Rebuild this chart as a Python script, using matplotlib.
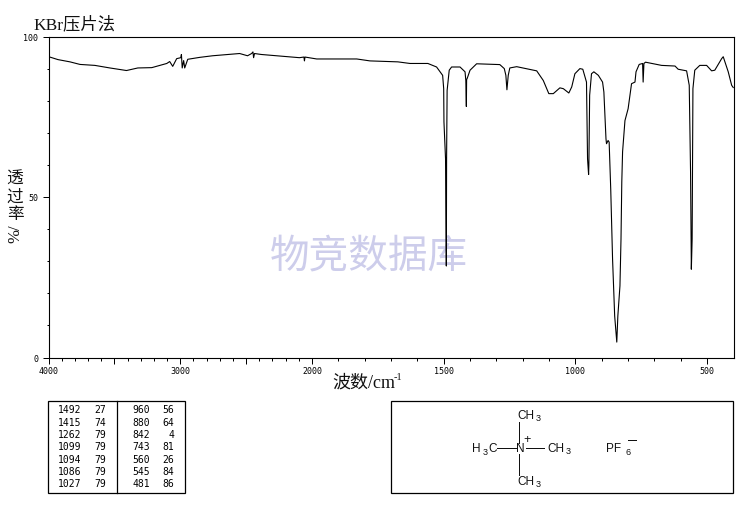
import numpy as np
import matplotlib
matplotlib.use("Agg")
import matplotlib.pyplot as plt
from matplotlib.patches import Rectangle

wavenumber = [3998,3928,3837,3761,3648,3534,3408,3322,3216,3102,3080,3057,3027,2996,2991,2985,2974,2966,2943,
    2852,2754,2549,2489,2458,2448,2443,2436,2385,2271,2095,2061,2057,2053,1982,1830,1780,1674,1628,1560,1527,
    1504,1500,1499,1493,1490,1489,1487,1479,1470,1438,1419,1416,1414,1413,1411,1400,1375,1287,1270,1264,1260,
    1255,1249,1223,1147,1122,1101,1084,1059,1046,1025,1014,1002,983,972,958,954,950,949,946,939,930,913,897,892,
    884,882,876,872,866,859,851,846,843,839,831,827,824,821,812,800,787,774,770,758,745,743,740,734,673,622,610,
    578,568,563,560,557,554,547,528,502,483,471,445,439,420,407,401]
transmittance = [93.7,92.8,92.1,91.3,91.0,90.2,89.4,90.2,90.3,91.6,92.2,90.7,93.1,93.4,94.4,90.2,92.5,90.2,92.9,
    93.5,94.0,94.7,94.0,94.7,95.2,93.4,94.7,94.4,94.0,93.4,93.6,92.4,93.6,93.0,93.0,92.4,92.1,91.6,91.6,90.5,
    87.9,83.75,73.4,61.9,28.5,61.9,83.2,89.5,90.5,90.5,89.0,86.3,78.2,86.6,86.9,89.5,91.5,91.25,90.0,87.9,83.4,
    87.9,90.2,90.6,89.3,86.3,82.2,82.2,84.0,83.75,82.4,84.3,88.4,90.0,89.8,85.8,61.9,57.0,59.8,81.7,88.4,89.0,87.9,85.8,82.7,
    68.1,66.6,67.6,67.1,52.5,30.6,12.9,7.8,4.8,12.9,22.3,36.9,54.7,64.1,73.8,77.5,85.3,85.8,89.0,91.3,91.6,85.8,91.6,92.0,91.0,90.8,89.8,
    89.3,84.8,57.8,27.5,36.9,83.75,89.5,91.0,91.0,89.3,89.5,93.1,93.7,89.0,84.8,84.1]

x_major = [4000,3500,3000,2500,2000,1500,1000,500]
x_labels = {4000:"4000",3000:"3000",2000:"2000",1500:"1500",1000:"1000",500:"500"}
y_major = [0,50,100]

peaks_left = [("1492","27"),("1415","74"),("1262","79"),("1099","79"),("1094","79"),("1086","79"),("1027","79")]
peaks_right = [("960","56"),("880","64"),("842","4"),("743","81"),("560","26"),("545","84"),("481","86")]

W, H = 737, 510
fig = plt.figure(figsize=(W/100, H/100), dpi=100, facecolor="white")

bg = fig.add_axes([0,0,1,1], zorder=0)
bg.set_xlim(0,W); bg.set_ylim(H,0); bg.axis("off")

L,R,T,B = 48.5,733.5,37.5,358.5
ax = fig.add_axes([L/W, 1-B/H, (R-L)/W, (B-T)/H], zorder=1)
ax.patch.set_alpha(0)

# axis is compressed by a factor 2 above 2000 cm-1
def fwd(v):
    v = np.asarray(v, float)
    return np.where(v > 2000, 2000 + (v-2000)/2, v)
def inv(u):
    u = np.asarray(u, float)
    return np.where(u > 2000, 2000 + (u-2000)*2, u)
ax.set_xscale("function", functions=(fwd, inv))
ax.set_xlim(4000,400)
ax.set_ylim(0,100)
ax.plot(wavenumber, transmittance, color="black", lw=0.8, antialiased=True, solid_joinstyle="round")

ax.set_xticks(x_major)
ax.set_xticks(list(range(500,4000,100)), minor=True)
ax.set_xticklabels([x_labels.get(v,"") for v in x_major], family="DejaVu Sans Mono", fontsize=6)
ax.set_yticks(y_major)
ax.set_yticks(list(range(10,100,10)), minor=True)
ax.set_yticklabels([str(v) for v in y_major], family="DejaVu Sans Mono", fontsize=6)
ax.tick_params(axis="x", which="major", length=4.5, width=.72, pad=1.5)
ax.tick_params(axis="x", which="minor", length=1.8, width=.72)
ax.tick_params(axis="y", which="major", length=4.5, width=.72, pad=3)
ax.tick_params(axis="y", which="minor", length=1.8, width=.72)
for s in ax.spines.values():
    s.set_linewidth(.8)

cjk = ["Liberation Serif","Noto Sans CJK SC"]
bg.text(33,24.5,"KBr压片法",family=cjk,fontsize=12.5,color="#111111",ha="left",va="center")
bg.text(332,383,"波数/cm",family=cjk,fontsize=13,color="#111111",ha="left",va="center")
bg.text(394,378,"-1",family="Liberation Serif",fontsize=7.5,color="#111111",ha="left",va="center")
for ch,y in zip("透过率",[180,198,215]):
    bg.text(15,y,ch,family=cjk,fontsize=12,color="#111111",ha="center",va="center")
bg.text(15,234,"%/",family="Liberation Serif",fontsize=12,color="#111111",ha="center",va="center",rotation=90)

bg.text(369,256,"物竞数据库",family="Noto Sans CJK SC",fontsize=28.5,color="#CDCDEB",ha="center",va="center")

# peak table
bg.add_patch(Rectangle((48.5,401.5),137,92,fill=False,ec="black",lw=.9))
bg.plot([117.5,117.5],[401.5,493.5],color="black",lw=.9)
rows = [410.5,422.8,435,447.3,459.6,472,484]
mono = dict(family="DejaVu Sans Mono",fontsize=7,ha="right",va="center",color="black")
for y,(a,b),(c,d) in zip(rows,peaks_left,peaks_right):
    bg.text(81.5,y,a,**mono); bg.text(106.5,y,b,**mono)
    bg.text(150,y,c,**mono); bg.text(174.5,y,d,**mono)

# structure box
bg.add_patch(Rectangle((391.5,401.5),342,92,fill=False,ec="black",lw=.9))
st = dict(family="Liberation Sans",fontsize=8.5,va="center",ha="left",color="#111111")
sub = dict(family="Liberation Sans",fontsize=6.5,va="center",ha="left",color="#111111")
bg.text(517.5,416,"CH",**st); bg.text(536,419,"3",**sub)
bg.text(517.5,482,"CH",**st); bg.text(536,485,"3",**sub)
bg.text(472.5,449,"H",**st); bg.text(482.5,453,"3",**sub); bg.text(488,449,"C",**st)
bg.text(547.5,449,"CH",**st); bg.text(566,452,"3",**sub)
bg.text(516,449,"N",**st)
bg.text(527.5,440,"+",family="Liberation Sans",fontsize=9,ha="center",va="center",color="#111111")
bg.text(606.5,449,"PF",**st); bg.text(625.5,453,"6",**sub)
seg = dict(color="#111111",lw=.72)
bg.plot([519.5,519.5],[423,444],**seg)
bg.plot([519.5,519.5],[455,476],**seg)
bg.plot([497,516],[449,449],**seg)
bg.plot([526.5,544],[449,449],**seg)
bg.plot([628,636],[441,441],**seg)
bg.set_xlim(0,W); bg.set_ylim(H,0)

fig.savefig("out.png",dpi=100)
